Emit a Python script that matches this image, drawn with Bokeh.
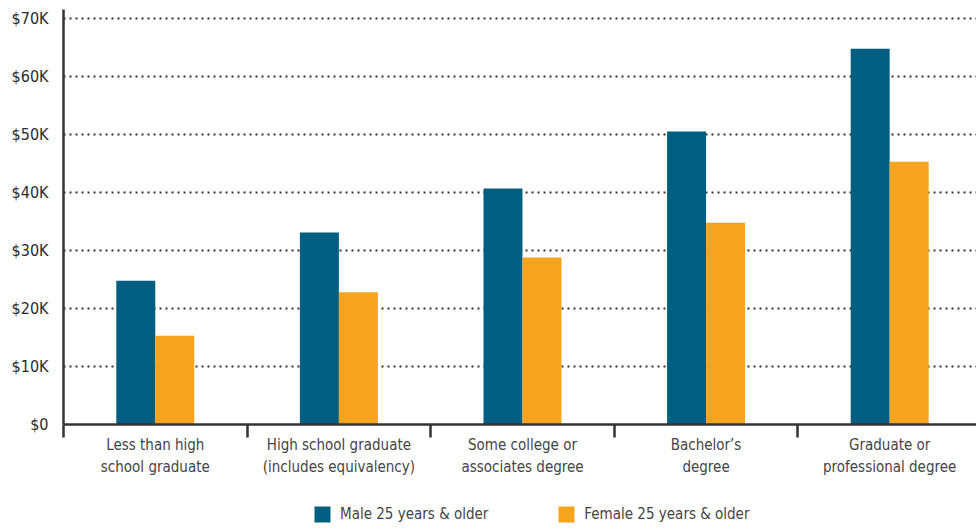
from bokeh.plotting import figure
from bokeh.models import (ColumnDataSource, Range1d, FixedTicker, Legend, LegendItem)
from bokeh.layouts import column
from bokeh.transform import dodge
from bokeh.embed import file_html
from bokeh.resources import INLINE

categories = ["Less than high\nschool graduate",
              "High school graduate\n(includes equivalency)",
              "Some college or\nassociates degree",
              "Bachelor\u2019s\ndegree",
              "Graduate or\nprofessional degree"]
male = [24800, 33100, 40700, 50500, 64800]
female = [15300, 22800, 28800, 34800, 45300]
y_ticks = [0, 10000, 20000, 30000, 40000, 50000, 60000, 70000]
y_labels = ["$0", "$10K", "$20K", "$30K", "$40K", "$50K", "$60K", "$70K"]
series_names = ["Male 25 years & older", "Female 25 years & older"]

FONT = "'DejaVu Sans Condensed', 'Roboto', sans-serif"
MALE_C = "#005F80"
FEMALE_C = "#F6A41E"

pos = [i + 0.5 for i in range(len(categories))]
src = ColumnDataSource(dict(x=pos, male=male, female=female))

p = figure(width=976, height=495, output_backend="svg", toolbar_location=None,
           x_range=Range1d(0, 4.973), y_range=Range1d(0, 71550),
           min_border_left=63, min_border_right=0, min_border_top=9,
           min_border_bottom=71)
p.outline_line_color = None
p.xgrid.visible = False

w = 0.2124
p.vbar(x=dodge("x", -w / 2, range=p.x_range), top="male", width=w, source=src,
       fill_color=MALE_C, line_color=None)
p.vbar(x=dodge("x", w / 2, range=p.x_range), top="female", width=w, source=src,
       fill_color=FEMALE_C, line_color=None)

# y axis
p.yaxis.ticker = FixedTicker(ticks=y_ticks)
p.yaxis.major_label_overrides = {t: l for t, l in zip(y_ticks, y_labels)}
p.yaxis.major_tick_out = 0
p.yaxis.major_tick_in = 0
p.yaxis.minor_tick_out = 0
p.yaxis.minor_tick_in = 0
p.yaxis.axis_line_width = 2.5
p.yaxis.axis_line_color = "#333333"
p.yaxis.major_label_text_font = FONT
p.yaxis.major_label_text_font_size = "16px"
p.yaxis.major_label_text_color = "#2b2b2b"
p.yaxis.major_label_standoff = 15

p.ygrid.ticker = FixedTicker(ticks=y_ticks[1:])
p.ygrid.grid_line_color = "#333333"
p.ygrid.grid_line_dash = "2 4"
p.ygrid.grid_line_width = 2

# x axis
p.xaxis.ticker = FixedTicker(ticks=pos, minor_ticks=list(range(len(categories))))
p.xaxis.major_label_overrides = {x: c for x, c in zip(pos, categories)}
p.xaxis.major_tick_out = 0
p.xaxis.major_tick_in = 0
p.xaxis.minor_tick_out = 13
p.xaxis.minor_tick_in = 0
p.xaxis.minor_tick_line_width = 2.5
p.xaxis.minor_tick_line_color = "#333333"
p.xaxis.axis_line_width = 2.5
p.xaxis.axis_line_color = "#333333"
p.xaxis.major_label_text_font = FONT
p.xaxis.major_label_text_font_size = "15px"
p.xaxis.major_label_text_line_height = 1.25
p.xaxis.major_label_text_color = "#444444"
p.xaxis.major_label_standoff = -2

# legend strip (its own bars have zero height and fall outside its view; only the legend shows)
q = figure(width=976, height=34, output_backend="svg", toolbar_location=None,
           x_range=Range1d(-101, -100), y_range=Range1d(0, 1),
           x_axis_type=None, y_axis_type=None,
           min_border_left=0, min_border_right=0, min_border_top=0, min_border_bottom=0)
q.outline_line_color = None
q.background_fill_color = None
q.border_fill_color = None
q.grid.visible = False
lm = q.vbar(x="x", top="male", bottom="male", width=w, source=src,
            fill_color=MALE_C, line_color=None)
lf = q.vbar(x="x", top="female", bottom="female", width=w, source=src,
            fill_color=FEMALE_C, line_color=None)

lg = Legend(items=[LegendItem(label=series_names[0], renderers=[lm]),
                   LegendItem(label=series_names[1], renderers=[lf])],
            location=(249, 5), orientation="horizontal", glyph_width=20, glyph_height=20,
            label_standoff=8, padding=0, margin=0, spacing=68, border_line_color=None,
            background_fill_alpha=0, label_text_font=FONT,
            label_text_font_size="15px", label_text_color="#444444",
            label_height=20)
q.add_layout(lg, "center")

layout = column(p, q, spacing=0)
open("out.html", "w").write(file_html(layout, INLINE))
